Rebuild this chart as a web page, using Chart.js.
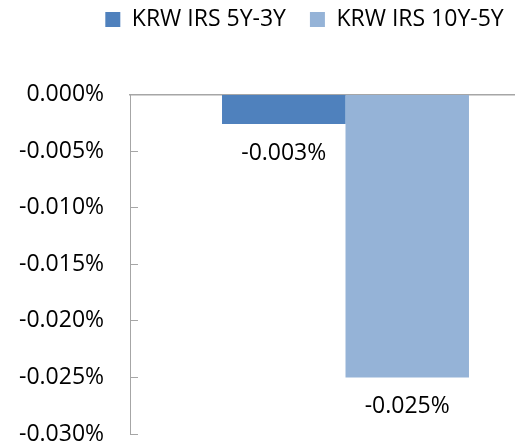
<!DOCTYPE html>
<html>
<head>
<meta charset="utf-8">
<script src="https://cdn.jsdelivr.net/npm/chart.js@4"></script>
<style>
  html, body { margin: 0; padding: 0; background: #fff; overflow: hidden; }
  #wrap { width: 515px; height: 446px; overflow: hidden; }
  #spreadChart { display: block; }
</style>
</head>
<body>
<div id="wrap"><canvas id="spreadChart" width="561" height="446"></canvas></div>
<script>
// KRW IRS curve spreads, in percent
const categories = [''];
const seriesNames = ['KRW IRS 5Y-3Y', 'KRW IRS 10Y-5Y'];
const spread5y3y = [-0.0026];
const spread10y5y = [-0.025];
const yTicks = { min: -0.030, max: 0, step: 0.005 };

const axisGray = '#a6a6a6';
const fontFamily = 'Open Sans';
const fmt = v => v.toFixed(3) + '%';

// value labels under each bar
const barLabels = {
    id: 'barLabels',
    afterDatasetsDraw(chart) {
        const ctx = chart.ctx;
        ctx.save();
        ctx.font = '23px "' + fontFamily + '"';
        ctx.fillStyle = '#000';
        ctx.textAlign = 'center';
        ctx.textBaseline = 'middle';
        chart.data.datasets.forEach((ds, i) => {
            chart.getDatasetMeta(i).data.forEach((bar, j) => {
                ctx.fillText(fmt(ds.data[j]), bar.x, bar.y + 29);
            });
        });
        ctx.restore();
    }
};

const ctx = document.getElementById('spreadChart');
const spreadChart = new Chart(ctx, {
    type: 'bar',
    data: {
        labels: categories,
        datasets: [{
            label: seriesNames[0],
            data: spread5y3y,
            backgroundColor: '#4f81bd'
        }, {
            label: seriesNames[1],
            data: spread10y5y,
            backgroundColor: '#95b3d7'
        }]
    },
    options: {
        responsive: false,
        animation: false,
        layout: {
            padding: { left: 48, right: 0, top: -16, bottom: 12 }
        },
        datasets: {
            bar: { barPercentage: 1, categoryPercentage: 0.573 }
        },
        plugins: {
            legend: {
                position: 'top',
                labels: {
                    font: { family: fontFamily, size: 23 },
                    color: '#000',
                    boxWidth: 15,
                    boxHeight: 15,
                    padding: 24
                }
            },
            tooltip: { enabled: false }
        },
        scales: {
            x: {
                position: 'top',
                grid: { display: false },
                ticks: { display: false },
                border: { display: true, color: axisGray, width: 1.5 },
                afterFit: s => { s.height = 53.6; }
            },
            y: {
                min: yTicks.min,
                max: yTicks.max,
                grid: {
                    drawOnChartArea: false,
                    color: axisGray,
                    tickLength: -8
                },
                border: { display: true, color: axisGray, width: 1 },
                ticks: {
                    stepSize: yTicks.step,
                    mirror: true,
                    crossAlign: 'far',
                    padding: -111,
                    color: '#000',
                    font: { family: fontFamily, size: 23, lineHeight: 1 },
                    callback: v => fmt(v)
                },
                afterFit: s => { s.width = 82; }
            }
        }
    },
    plugins: [barLabels]
});
</script>
</body>
</html>
